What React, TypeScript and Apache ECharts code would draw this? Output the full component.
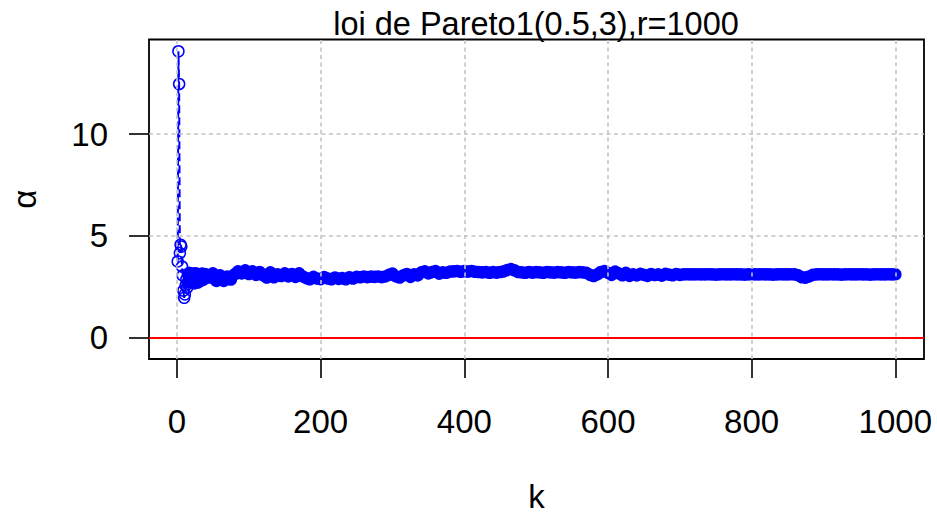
import React, { useEffect, useRef } from "react";
import * as echarts from "echarts";

// Hill-type estimate of alpha against the number k of upper order statistics
const kValues = [
  1, 2, 3, 4, 5, 6, 7, 8, 9, 10, 11, 12, 13, 14, 15, 16, 17, 18, 19, 20,
  21, 22, 23, 24, 25, 26, 27, 28, 29, 30, 31, 32, 33, 34, 35, 36, 37, 38, 39, 40,
  45, 50, 55, 60, 65, 70, 75, 80, 85, 90, 95, 100,
  105, 110, 115, 120, 125, 130, 135, 140, 145, 150, 155, 160, 165, 170, 175, 180, 185, 190, 195, 200,
  205, 210, 215, 220, 225, 230, 235, 240, 245, 250, 255, 260, 265, 270, 275, 280, 285, 290, 295, 300,
  305, 310, 315, 320, 325, 330, 335, 340, 345, 350, 355, 360, 365, 370, 375, 380, 385, 390, 395, 400,
  405, 410, 415, 420, 425, 430, 435, 440, 445, 450, 455, 460, 465, 470, 475, 480, 485, 490, 495, 500,
  505, 510, 515, 520, 525, 530, 535, 540, 545, 550, 555, 560, 565, 570, 575, 580, 585, 590, 595, 600,
  605, 610, 615, 620, 625, 630, 635, 640, 645, 650, 655, 660, 665, 670, 675, 680, 685, 690, 695, 700,
  705, 710, 715, 720, 725, 730, 735, 740, 745, 750, 755, 760, 765, 770, 775, 780, 785, 790, 795, 800,
  805, 810, 815, 820, 825, 830, 835, 840, 845, 850, 855, 860, 865, 870, 875, 880, 885, 890, 895, 900,
  905, 910, 915, 920, 925, 930, 935, 940, 945, 950, 955, 960, 965, 970, 975, 980, 985, 990, 995, 1000,
];

const alphaValues = [
  3.74, 14.08, 12.47, 4.15, 4.56, 4.47, 3.49, 3.05, 2.3, 1.95, 2.12, 2.55, 2.85, 2.45, 2.72, 3.05, 3.18, 2.92, 3.02, 3.15,
  2.85, 3.08, 2.75, 2.66, 2.9, 3.16, 3.05, 2.8, 2.7, 2.95, 3.1, 3.0, 2.78, 2.9, 3.14, 3.05, 2.85, 2.95, 3.12, 3.0,
  2.95, 3.15, 2.78, 3.05, 2.78, 3.0, 2.85, 3.1, 3.25, 3.15, 3.3, 3.12,
  3.25, 3.08, 3.22, 3.05, 2.95, 3.2, 2.96, 3.1, 3.02, 3.15, 3.0, 3.12, 2.98, 3.15, 3.0, 2.92, 2.86, 2.98, 2.9, 2.87,
  2.97, 2.9, 2.86, 2.95, 2.88, 2.92, 2.86, 2.96, 2.9, 2.98, 2.96, 3.0, 2.97, 2.99, 2.98, 3.0, 2.97, 3.0, 3.08, 3.14,
  3.0, 2.95, 3.05, 3.12, 2.98, 3.1, 3.05, 3.2, 3.25, 3.15, 3.22, 3.26, 3.14, 3.2, 3.18, 3.24, 3.25, 3.27, 3.23, 3.26,
  3.24, 3.27, 3.23, 3.22, 3.2, 3.22, 3.18, 3.21, 3.19, 3.22, 3.25, 3.32, 3.36, 3.3, 3.22, 3.2, 3.18, 3.22, 3.19, 3.21,
  3.2, 3.18, 3.22, 3.2, 3.19, 3.21, 3.2, 3.18, 3.22, 3.2, 3.19, 3.21, 3.2, 3.18, 3.08, 3.02, 3.1, 3.22, 3.26, 3.18,
  3.08, 3.24, 3.15, 3.06, 3.18, 3.03, 3.1, 3.05, 3.13, 3.08, 3.03, 3.12, 3.07, 3.1, 3.04, 3.13, 3.09, 3.06, 3.12, 3.08,
  3.1, 3.11, 3.1, 3.1, 3.11, 3.1, 3.1, 3.11, 3.1, 3.09, 3.1, 3.11, 3.1, 3.1, 3.11, 3.1, 3.1, 3.09, 3.1, 3.11,
  3.1, 3.1, 3.11, 3.1, 3.1, 3.09, 3.1, 3.11, 3.1, 3.1, 3.11, 3.1, 3.05, 2.96, 2.94, 3.0, 3.08, 3.1, 3.11, 3.1,
  3.1, 3.11, 3.1, 3.1, 3.09, 3.1, 3.11, 3.1, 3.1, 3.11, 3.1, 3.1, 3.09, 3.1, 3.11, 3.1, 3.1, 3.11, 3.1, 3.1,
];

const xTicks = [0, 200, 400, 600, 800, 1000];
const yTicks = [0, 5, 10];
const referenceLevel = 0;

const titleText = "loi de Pareto1(0.5,3),r=1000";
const xName = "k";
const yName = "α";

const FONT = "'Liberation Sans', Arial, Helvetica, sans-serif";
const BLUE = "#0000ff";
const GRID_GRAY = "#c4c4c4";

export default function App() {
  const ref = useRef<HTMLDivElement>(null);

  useEffect(() => {
    if (!ref.current) return;
    const chart = echarts.init(ref.current, undefined, { renderer: "svg" });

    const hollow = { color: "rgba(255,255,255,0)" };
    const points = kValues.map((k, i) => ({
      value: [k, alphaValues[i]],
      itemStyle: k <= 14 ? hollow : undefined,
    }));

    const tickStyle = { color: "#000", width: 1.6 };
    const labelStyle = { fontSize: 33, color: "#000", fontFamily: FONT, lineHeight: 33 };

    chart.setOption({
      animation: false,
      backgroundColor: "#ffffff",
      textStyle: { fontFamily: FONT },
      graphic: [
        {
          type: "text",
          x: 536,
          y: 24,
          style: {
            text: titleText,
            fontSize: 32.5,
            fontFamily: FONT,
            fill: "#000",
            align: "center",
            verticalAlign: "middle",
          },
        },
      ],
      grid: {
        left: 148.3,
        top: 39.5,
        right: 13,
        bottom: 158.7,
        show: true,
        borderColor: "#000",
        borderWidth: 1.8,
        backgroundColor: "rgba(0,0,0,0)",
      },
      xAxis: {
        type: "value",
        min: -38.96,
        max: 1039.96,
        axisLine: { show: false, onZero: false },
        axisTick: { show: true, length: 19, customValues: xTicks, lineStyle: tickStyle },
        axisLabel: {
          customValues: xTicks,
          formatter: (v: number) => String(v),
          margin: 46,
          ...labelStyle,
        },
        splitLine: { show: false },
        name: xName,
        nameLocation: "middle",
        nameGap: 121,
        nameTextStyle: labelStyle,
      },
      yAxis: {
        type: "value",
        min: -1.062,
        max: 14.66,
        axisLine: { show: false, onZero: false },
        axisTick: { show: true, length: 20, customValues: yTicks, lineStyle: tickStyle },
        axisLabel: {
          customValues: yTicks,
          formatter: (v: number) => String(v),
          margin: 41,
          ...labelStyle,
        },
        splitLine: { show: false },
        name: yName,
        nameLocation: "middle",
        nameRotate: 90,
        nameGap: 108,
        nameTextStyle: labelStyle,
      },
      series: [
        {
          name: "alpha",
          type: "line",
          data: points,
          showAllSymbol: true,
          symbol: "circle",
          symbolSize: 11,
          itemStyle: { color: BLUE, borderColor: BLUE, borderWidth: 1.5 },
          lineStyle: { color: BLUE, width: 2, type: [8, 4] },
          z: 2,
        },
        {
          // dotted reference grid, drawn over the estimates
          name: "grid",
          type: "line",
          data: [],
          silent: true,
          markLine: {
            silent: true,
            z: 5,
            symbol: ["none", "none"],
            label: { show: false },
            lineStyle: { color: GRID_GRAY, width: 1.6, type: [4, 3.5] },
            emphasis: { disabled: true },
            data: [
              ...xTicks.map((v) => ({ xAxis: v })),
              ...yTicks.map((v) => ({ yAxis: v })),
            ],
          },
        },
        {
          // horizontal line at zero
          name: "zero",
          type: "line",
          data: [],
          silent: true,
          markLine: {
            silent: true,
            z: 6,
            symbol: ["none", "none"],
            label: { show: false },
            lineStyle: { color: "#ff0000", width: 2, type: "solid" },
            emphasis: { disabled: true },
            data: [{ yAxis: referenceLevel }],
          },
        },
      ],
    });

    return () => chart.dispose();
  }, []);

  return (
    <div
      ref={ref}
      style={{ position: "fixed", left: 0, top: 0, width: 937, height: 518, background: "#fff" }}
    />
  );
}
